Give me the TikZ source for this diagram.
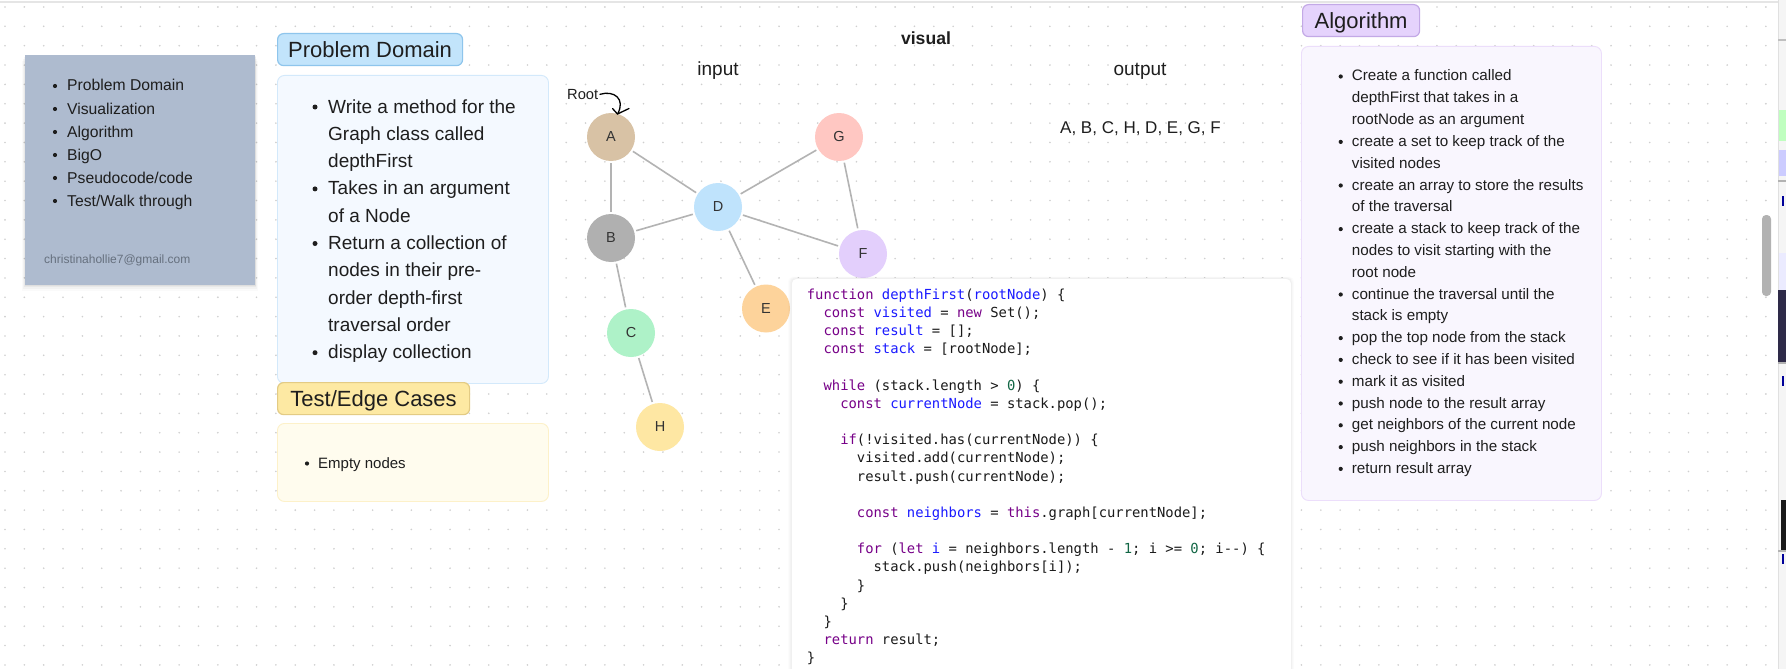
\documentclass[tikz,border=0pt]{standalone}
\usepackage{fontspec}
\setmainfont{Liberation Sans}
\newfontfamily\codefont{DejaVu Sans Mono}[Ligatures=TeXOff]
\usetikzlibrary{arrows.meta}
\definecolor{txt}{HTML}{1E1E1E}
\definecolor{dotc}{HTML}{CFCFCF}
\definecolor{side}{HTML}{AEBBCF}
\definecolor{mail}{HTML}{66707E}
\definecolor{pdlab}{HTML}{C2E4FB}
\definecolor{pdlabd}{HTML}{8EC5EC}
\definecolor{pdbox}{HTML}{F4F9FF}
\definecolor{pdboxd}{HTML}{D3E9FB}
\definecolor{tslab}{HTML}{FDE9A3}
\definecolor{tslabd}{HTML}{E3CB84}
\definecolor{tsbox}{HTML}{FFFCEE}
\definecolor{tsboxd}{HTML}{FDF1C9}
\definecolor{allab}{HTML}{E5D3FC}
\definecolor{allabd}{HTML}{C3A9E6}
\definecolor{albox}{HTML}{F9F6FE}
\definecolor{alboxd}{HTML}{ECDEFB}
\definecolor{codeb}{HTML}{F0F0F0}
\definecolor{kwc}{HTML}{770088}
\definecolor{vnc}{HTML}{1A1AFF}
\definecolor{nmc}{HTML}{116644}
\definecolor{codet}{HTML}{1A1A1A}
\definecolor{edgec}{HTML}{B3B3B3}
\definecolor{darkthumb}{HTML}{2E2A48}
\definecolor{cA}{HTML}{D8C2A5}
\definecolor{cB}{HTML}{B0B0B0}
\definecolor{cC}{HTML}{AEF2C8}
\definecolor{cD}{HTML}{BFE3FC}
\definecolor{cE}{HTML}{FDD39B}
\definecolor{cF}{HTML}{E3CFFC}
\definecolor{cG}{HTML}{FFC7C2}
\definecolor{cH}{HTML}{FEE7A3}
\newcommand\kw[1]{\textcolor{kwc}{#1}}
\newcommand\vn[1]{\textcolor{vnc}{#1}}
\newcommand\nm[1]{\textcolor{nmc}{#1}}
\newcommand\codeline[3]{\node[codetext] (code#1) at ({806.7+#2*8.34},{299.3+18.17*(#1-1)}) {#3};}
\begin{document}
\begin{tikzpicture}[x=1pt,y=-1pt,
  lab/.style={draw, line width=1.2pt, rounded corners=6pt, minimum height=32pt,
    inner sep=0pt, text depth=0pt, anchor=north west, text=txt,
    font=\fontsize{22}{26}\selectfont},
  bodybox/.style={draw, line width=0.9pt, rounded corners=7pt, anchor=north west, inner sep=0pt},
  sidetext/.style={anchor=base west, inner sep=0pt, text=txt, font=\fontsize{15.7}{18}\selectfont},
  pdtext/.style={anchor=base west, inner sep=0pt, text=txt, font=\fontsize{19}{22}\selectfont},
  altext/.style={anchor=base west, inner sep=0pt, text=txt, font=\fontsize{15.2}{18}\selectfont},
  codetext/.style={anchor=base west, inner sep=0pt, text=codet, font=\codefont\fontsize{13.85}{16}\selectfont},
  plain/.style={inner sep=0pt, text=txt},
  gn/.style={circle, minimum size=48pt, inner sep=0pt, text=black!80, font=\fontsize{14.5}{16}\selectfont},
  edge/.style={draw=edgec, line width=1.6pt, shorten <=2pt, shorten >=2pt}]
\useasboundingbox (0,0) rectangle (1786,669);
\clip (0,0) rectangle (1786,669);
\fill[white] (0,0) rectangle (1786,669);
% dot grid
\foreach \i in {0,...,92}{\foreach \j in {0,...,34}{\fill[dotc] ({5+19.35*\i},{7+19.35*\j}) circle (0.9);}}
% top border
\draw[black!10, line width=1.5pt] (0,2) -- (1778,2);

% sidebar
\foreach \o/\a in {6/0.02,4/0.03,2/0.04,1/0.04}{\fill[black, opacity=\a] ({25-\o*0.5},{55+\o}) rectangle ({255+\o*0.5},{285+\o});}
\node[fill=side, minimum width=230pt, minimum height=230pt, inner sep=0pt, anchor=north west] (side) at (25,55) {};
\foreach \t [count=\k from 0] in {Problem Domain, Visualization, Algorithm, BigO, Pseudocode/code, Test/Walk through}{
  \node[sidetext] (s\k) at (67,{91+23*\k}) {\t};
  \fill[txt] (55,{86+23*\k}) circle (2.1);}
\node[anchor=base west, inner sep=0pt, text=mail, font=\fontsize{12}{14}\selectfont] (mail) at (44,263) {christinahollie7@gmail.com};

% problem domain
\node[lab, fill=pdlab, draw=pdlabd, minimum width=185pt] (pdl) at (277,33) {Problem Domain};
\node[bodybox, fill=pdbox, draw=pdboxd, minimum width=271pt, minimum height=308pt] (pdb) at (277,75) {};
\foreach \t [count=\k from 0] in {Write a method for the, Graph class called, depthFirst, Takes in an argument, of a Node, Return a collection of, nodes in their pre-, order depth-first, traversal order, display collection}{
  \node[pdtext] (p\k) at (328,{113+27.3*\k}) {\t};}
\foreach \k in {0,3,5,9}{\fill[txt] (315,{107+27.3*\k}) circle (2.5);}

% test / edge cases
\node[lab, fill=tslab, draw=tslabd, minimum width=192pt] (tsl) at (277,382) {Test/Edge Cases};
\node[bodybox, fill=tsbox, draw=tsboxd, minimum width=271pt, minimum height=78pt] (tsb) at (277,423) {};
\node[anchor=base west, inner sep=0pt, text=txt, font=\fontsize{15}{18}\selectfont] (empty) at (318,468.7) {Empty nodes};
\fill[txt] (307,463.5) circle (2.1);

% visual headings
\node[plain, anchor=base, font=\bfseries\fontsize{17.6}{20}\selectfont] (visual) at (926,45) {visual};
\node[plain, anchor=base, font=\fontsize{19}{22}\selectfont] (input) at (718,75) {input};
\node[plain, anchor=base, font=\fontsize{19}{22}\selectfont] (output) at (1140,75) {output};
\node[plain, anchor=base west, font=\fontsize{17}{20}\selectfont] (seq) at (1060,133) {A, B, C, H, D, E, G, F};

% graph
\node[gn, fill=cA] (A) at (611,137) {A};
\node[gn, fill=cG] (G) at (839,137) {G};
\node[gn, fill=cD] (D) at (718,207) {D};
\node[gn, fill=cB] (B) at (611,238) {B};
\node[gn, fill=cF] (F) at (863,254) {F};
\node[gn, fill=cE] (E) at (766,308.5) {E};
\node[gn, fill=cC] (C) at (631,333) {C};
\node[gn, fill=cH] (H) at (660,427) {H};
\draw[edge] (A) -- (B);
\draw[edge] (A) -- (D);
\draw[edge] (B) -- (D);
\draw[edge] (B) -- (C);
\draw[edge] (C) -- (H);
\draw[edge] (D) -- (G);
\draw[edge] (D) -- (F);
\draw[edge] (D) -- (E);
\draw[edge] (G) -- (F);

% root label
\node[plain, anchor=base west, font=\fontsize{14.7}{17}\selectfont] (root) at (567,99.3) {Root};
\coordinate (rtip) at (617.5,114);
\draw[black, line width=1.3pt, line cap=round] (root.east) ++(1.5,0) .. controls (614,90) and (626,99) .. (rtip);
\draw[black, line width=1.3pt, line cap=round, line join=round] (612.5,108.5) -- (rtip) -- (629,108.5);

% code box
\foreach \o/\a in {3/0.012,2/0.015,1/0.02}{\fill[black, opacity=\a, rounded corners=5pt] ({791-\o},{278-\o*0.5}) rectangle ({1291+\o},690);}
\node[draw=codeb, fill=white, line width=0.8pt, rounded corners=5pt, minimum width=500pt, minimum height=420pt, inner sep=0pt, anchor=north west] (codebox) at (791,278) {};
\codeline{1}{0}{\kw{function} \vn{depthFirst}(\vn{rootNode}) \{}
\codeline{2}{2}{\kw{const} \vn{visited} = \kw{new} Set();}
\codeline{3}{2}{\kw{const} \vn{result} = [];}
\codeline{4}{2}{\kw{const} \vn{stack} = [rootNode];}
\codeline{6}{2}{\kw{while} (stack.length > \nm{0}) \{}
\codeline{7}{4}{\kw{const} \vn{currentNode} = stack.pop();}
\codeline{9}{4}{\kw{if}(!visited.has(currentNode)) \{}
\codeline{10}{6}{visited.add(currentNode);}
\codeline{11}{6}{result.push(currentNode);}
\codeline{13}{6}{\kw{const} \vn{neighbors} = \kw{this}.graph[currentNode];}
\codeline{15}{6}{\kw{for} (\kw{let} \vn{i} = neighbors.length - \nm{1}; i >= \nm{0}; i--) \{}
\codeline{16}{8}{stack.push(neighbors[i]);}
\codeline{17}{6}{\}}
\codeline{18}{4}{\}}
\codeline{19}{2}{\}}
\codeline{20}{2}{\kw{return} result;}
\codeline{21}{0}{\}}

% algorithm
\node[lab, fill=allab, draw=allabd, minimum width=117pt] (all) at (1302,4) {Algorithm};
\node[bodybox, fill=albox, draw=alboxd, minimum width=300pt, minimum height=454pt] (alb) at (1301,46) {};
\foreach \t [count=\k from 0] in {Create a function called, depthFirst that takes in a, rootNode as an argument, create a set to keep track of the, visited nodes, create an array to store the results, of the traversal, create a stack to keep track of the, nodes to visit starting with the, root node, continue the traversal until the, stack is empty, pop the top node from the stack, check to see if it has been visited, mark it as visited, push node to the result array, get neighbors of the current node, push neighbors in the stack, return result array}{
  \node[altext] (a\k) at (1351.7,{81+21.8*\k}) {\t};}
\foreach \k in {0,3,5,7,10,12,13,14,15,16,17,18}{\fill[txt] (1340.7,{76.5+21.8*\k}) circle (2.1);}

% right edge of the screen
\fill[black!4] (1778,0) rectangle (1786,669);
\draw[black!12, line width=0.8pt] (1778,0) -- (1778,669);
\fill[black!25] (1778,39) rectangle (1786,41);
\fill[green!25!white] (1779,110) rectangle (1786,141);
\fill[blue!20!white] (1779,150) rectangle (1786,176);
\fill[black!30] (1778,180) rectangle (1786,182);
\fill[blue!60!black] (1782,196) rectangle (1783.5,206);
\fill[blue!8] (1779,253) rectangle (1786,290);
\fill[darkthumb] (1778,290) rectangle (1786,362);
\fill[black!30] (1778,362) rectangle (1786,364);
\fill[blue!60!black] (1782,376) rectangle (1783.5,386);
\fill[black!90] (1781,500) rectangle (1786,550);
\fill[black!30] (1778,550) rectangle (1786,552);
\fill[blue!60!black] (1782,554) rectangle (1783.5,564);
\fill[black!30, rounded corners=4pt] (1762,215) rectangle (1771,296);
\end{tikzpicture}
\end{document}
